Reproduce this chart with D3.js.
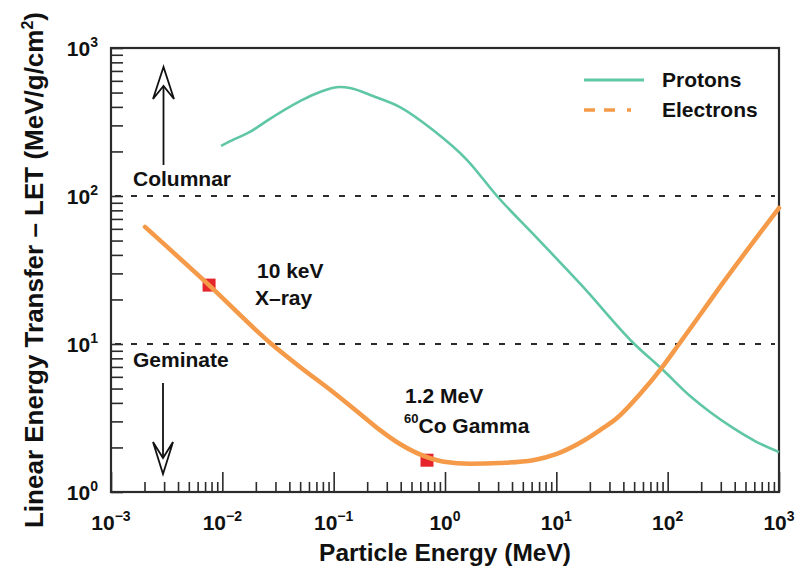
<!DOCTYPE html>
<html>
<head>
<meta charset="utf-8">
<script src="https://cdn.jsdelivr.net/npm/d3@7"></script>
<style>
  html, body { margin: 0; padding: 0; background: #fff; }
  svg { display: block; }
  text { font-family: "Liberation Sans", Arial, Helvetica, sans-serif; font-weight: bold; fill: #111; }
</style>
</head>
<body>
<svg id="chart" width="800" height="572"></svg>
<script>
// ---------------- data ----------------
const protonEnergy = [0.00973, 0.0130, 0.0177, 0.0257, 0.0499, 0.0753, 0.114, 0.140, 0.225, 0.394, 0.780, 1.58, 2.93, 6.18, 17.4, 48.9, 90.8, 159, 240, 386, 609, 1000];
const protonLET    = [218, 243, 271, 326, 438, 505, 545, 537, 474, 399, 279, 175, 100, 55.4, 24.3, 10.2, 6.67, 4.45, 3.47, 2.71, 2.21, 1.86];

const electronEnergy = [0.00202, 0.00759, 0.0268, 0.0499, 0.0986, 0.173, 0.261, 0.394, 0.689, 0.98, 1.68, 3.12, 6.18, 10.1, 17.4, 24.7, 35.1, 56.5, 90.8, 129, 195, 295, 1000];
const electronLET    = [61.8, 25.0, 10.2, 7.00, 4.74, 3.37, 2.62, 2.11, 1.72, 1.60, 1.55, 1.57, 1.64, 1.81, 2.21, 2.62, 3.16, 4.59, 7.10, 10.2, 15.7, 24.3, 83.0];

const markerEnergy = [0.0076, 0.689];
const markerLET    = [25, 1.64];

const thresholdLET = [100, 10];

const xTickValues = [1e-3, 1e-2, 1e-1, 1e0, 1e1, 1e2, 1e3];
const xTickExponents = ["\u22123", "\u22122", "\u22121", "0", "1", "2", "3"];
const yTickValues = [1e0, 1e1, 1e2, 1e3];
const yTickExponents = ["0", "1", "2", "3"];

const seriesNames = ["Protons", "Electrons"];

// ---------------- layout ----------------
const svg = d3.select("#chart");
const L = 111, R = 779, T = 48, B = 492;

const x = d3.scaleLog().domain([1e-3, 1e3]).range([L, R]);
const y = d3.scaleLog().domain([1e0, 1e3]).range([B, T]);

const ink = "#2b2b2b";
const teal = "#5fc6a6";
const orange = "#f59a48";

function minors(lo, hi) {
  const out = [];
  for (let e = lo; e < hi; e++) for (let k = 2; k <= 9; k++) out.push(k * Math.pow(10, e));
  return out;
}

// x axis ticks (inward)
const xMinor = d3.axisBottom(x).tickValues(minors(-3, 3)).tickSize(-10).tickFormat("");
const xMajor = d3.axisBottom(x).tickValues(xTickValues).tickSize(-20).tickFormat("");
[xMinor, xMajor].forEach(ax => {
  const g = svg.append("g").attr("transform", `translate(0,${B})`).call(ax);
  g.select(".domain").remove();
  g.selectAll("line").attr("stroke", ink).attr("stroke-width", 1.6);
});

// y axis ticks (inward)
const yMinor = d3.axisLeft(y).tickValues(minors(0, 3)).tickSize(-12).tickFormat("");
const yMajor = d3.axisLeft(y).tickValues(yTickValues).tickSize(-12).tickFormat("");
[yMinor, yMajor].forEach(ax => {
  const g = svg.append("g").attr("transform", `translate(${L},0)`).call(ax);
  g.select(".domain").remove();
  g.selectAll("line").attr("stroke", ink).attr("stroke-width", 1.6);
});

// dashed threshold lines
svg.selectAll("line.thr").data(thresholdLET).enter().append("line")
  .attr("class", "thr")
  .attr("x1", L + 4).attr("x2", R - 4)
  .attr("y1", d => y(d)).attr("y2", d => y(d))
  .attr("stroke", ink).attr("stroke-width", 2)
  .attr("stroke-dasharray", "6,10");

// frame
svg.append("rect").attr("x", L).attr("y", T).attr("width", R - L).attr("height", B - T)
  .attr("fill", "none").attr("stroke", ink).attr("stroke-width", 2.2);

// x tick labels
xTickValues.forEach((v, i) => {
  const t = svg.append("text").attr("x", x(v)).attr("y", 530).attr("text-anchor", "middle").style("font-size", "21px");
  t.append("tspan").text("10");
  t.append("tspan").attr("dy", -9).style("font-size", "14px").text(xTickExponents[i]);
});
// y tick labels
yTickValues.forEach((v, i) => {
  const t = svg.append("text").attr("x", 98).attr("y", y(v) + 8).attr("text-anchor", "end").style("font-size", "21px");
  t.append("tspan").text("10");
  t.append("tspan").attr("dy", -9).style("font-size", "14px").text(yTickExponents[i]);
});

// axis titles
svg.append("text").attr("x", 445).attr("y", 561).attr("text-anchor", "middle")
  .style("font-size", "24.5px").text("Particle Energy (MeV)");
const yt = svg.append("text").attr("transform", "translate(43,270) rotate(-90)")
  .attr("text-anchor", "middle").style("font-size", "26px");
yt.append("tspan").text("Linear Energy Transfer \u2013 LET (MeV/g/cm");
yt.append("tspan").attr("dy", -10).style("font-size", "16px").text("2");
yt.append("tspan").attr("dy", 10).text(")");

// markers (under the electron line)
svg.selectAll("rect.mk").data(markerEnergy).enter().append("rect")
  .attr("class", "mk")
  .attr("x", d => x(d) - 6.5).attr("y", (d, i) => y(markerLET[i]) - 6.5)
  .attr("width", 13).attr("height", 13)
  .attr("fill", "#e5252b");

// curves
const line = d3.line().x(d => x(d[0])).y(d => y(d[1])).curve(d3.curveMonotoneX);
svg.append("path").datum(protonEnergy.map((e, i) => [e, protonLET[i]]))
  .attr("d", line).attr("fill", "none").attr("stroke", teal).attr("stroke-width", 2.6)
  .attr("stroke-linejoin", "round");
svg.append("path").datum(electronEnergy.map((e, i) => [e, electronLET[i]]))
  .attr("d", line).attr("fill", "none").attr("stroke", orange).attr("stroke-width", 4.5)
  .attr("stroke-linejoin", "round").attr("stroke-linecap", "round");

// legend
svg.append("line").attr("x1", 584).attr("x2", 644).attr("y1", 80).attr("y2", 80)
  .attr("stroke", teal).attr("stroke-width", 3);
svg.append("line").attr("x1", 584).attr("x2", 645).attr("y1", 110).attr("y2", 110)
  .attr("stroke", orange).attr("stroke-width", 3.5).attr("stroke-dasharray", "11,9,11,12,4,100");
svg.append("text").attr("x", 662).attr("y", 87).style("font-size", "21px").text(seriesNames[0]);
svg.append("text").attr("x", 662).attr("y", 117).style("font-size", "21px").text(seriesNames[1]);

// annotations
function note(xp, yp, txt, size) {
  return svg.append("text").attr("x", xp).attr("y", yp).style("font-size", (size || 21) + "px").text(txt);
}
note(133, 186, "Columnar");
note(133, 367, "Geminate");
note(257, 278, "10 keV");
note(255, 305, "X\u2013ray");
note(405, 403, "1.2 MeV");
const co = svg.append("text").attr("x", 404).attr("y", 433).style("font-size", "21px");
co.append("tspan").attr("dy", -10).style("font-size", "13px").text("60");
co.append("tspan").attr("dy", 10).text("Co Gamma");

// arrows
svg.append("line").attr("x1", 163.5).attr("x2", 163.5).attr("y1", 165).attr("y2", 86)
  .attr("stroke", "#111").attr("stroke-width", 1.8);
svg.append("path").attr("d", "M163.5,67 L153,99 L163.5,86 L174,99 Z")
  .attr("fill", "#fff").attr("stroke", "#111").attr("stroke-width", 1.8).attr("stroke-linejoin", "miter");
svg.append("line").attr("x1", 163).attr("x2", 163).attr("y1", 383).attr("y2", 458)
  .attr("stroke", "#111").attr("stroke-width", 1.8);
svg.append("path").attr("d", "M163,474 L153,442 L163,458 L173,442 Z")
  .attr("fill", "#fff").attr("stroke", "#111").attr("stroke-width", 1.8).attr("stroke-linejoin", "miter");
</script>
</body>
</html>
